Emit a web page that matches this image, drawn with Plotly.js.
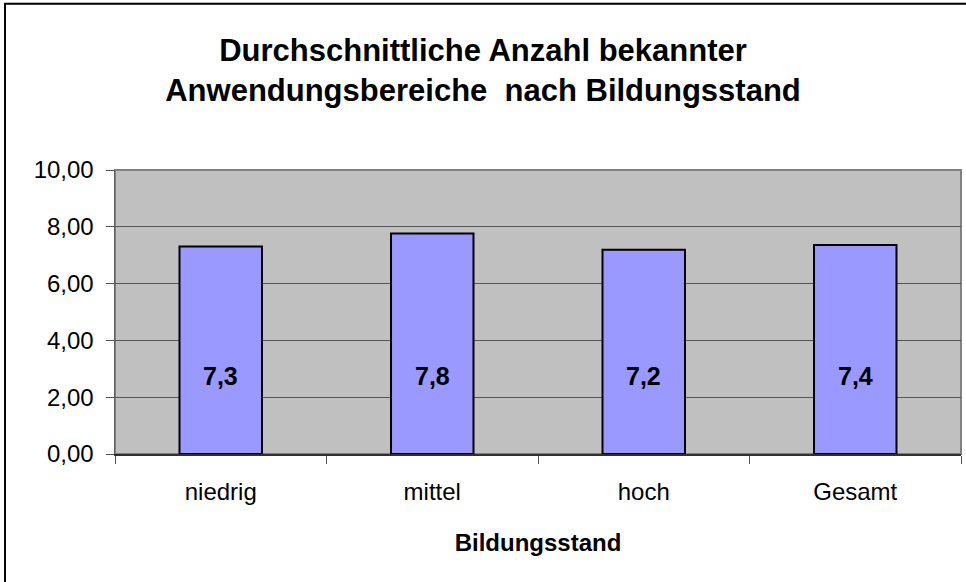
<!DOCTYPE html>
<html>
<head>
<meta charset="utf-8">
<script src="https://cdn.plot.ly/plotly-3.0.1.min.js"></script>
<style>
  html, body { margin: 0; padding: 0; background: #ffffff; }
  #chart { width: 966px; height: 582px; }
</style>
</head>
<body>
<div id="chart"></div>
<script>
const categories = ['niedrig', 'mittel', 'hoch', 'Gesamt'];
const values = [7.31, 7.76, 7.19, 7.36];
const yTicks = [0, 2, 4, 6, 8, 10];
const labelY = 2.75;

const titleText = 'Durchschnittliche Anzahl bekannter<br>Anwendungsbereiche\u00a0 nach Bildungsstand';
const xTitle = 'Bildungsstand';

const fmt = v => v.toFixed(1).replace('.', ',');
const FONT = 'Arial, "Liberation Sans", sans-serif';

const trace = {
  type: 'bar',
  x: categories,
  y: values,
  marker: { color: '#9999FF', line: { color: '#000000', width: 2 } },
  hoverinfo: 'skip'
};

const annotations = categories.map((c, i) => ({
  x: c, y: labelY, xref: 'x', yref: 'y',
  text: fmt(values[i]), showarrow: false,
  font: { family: FONT, size: 25, color: '#000000', weight: 'bold' }
}));

const layout = {
  width: 966, height: 582,
  margin: { l: 115, r: 5, t: 170, b: 128 },
  paper_bgcolor: '#ffffff',
  plot_bgcolor: '#C0C0C0',
  separators: ',.',
  showlegend: false,
  bargap: 0.61,
  title: {
    text: titleText,
    font: { family: FONT, size: 31, color: '#000000', weight: 'bold' },
    x: 0.5, xanchor: 'center',
    y: 0.895, yanchor: 'top', yref: 'container'
  },
  xaxis: {
    type: 'category',
    tickson: 'boundaries',
    ticks: 'outside', ticklen: 8, tickcolor: '#505050', tickwidth: 1,
    showline: true, linecolor: '#303030', linewidth: 1.5,
    showgrid: false,
    ticklabelstandoff: 16,
    tickfont: { family: FONT, size: 24, color: '#000000' },
    title: { text: xTitle, font: { family: FONT, size: 24, color: '#000000', weight: 'bold' }, standoff: 30 }
  },
  yaxis: {
    range: [0, 10],
    tickvals: yTicks,
    tickformat: '.2f',
    ticks: 'outside', ticklen: 8, tickcolor: '#505050', tickwidth: 1,
    showline: true, linecolor: '#606060', linewidth: 1.5,
    showgrid: true, gridcolor: '#555555', gridwidth: 1,
    zeroline: false,
    ticklabelstandoff: 7,
    tickfont: { family: FONT, size: 24, color: '#000000' }
  },
  annotations: annotations,
  shapes: [
    { type: 'rect', xref: 'paper', yref: 'paper', x0: 0, x1: 1, y0: 0, y1: 1,
      line: { color: '#808080', width: 2 }, layer: 'below' },
    { type: 'rect', xref: 'paper', yref: 'paper', x0: -0.13, x1: 1.3, y0: -0.8, y1: 1.585,
      line: { color: '#000000', width: 2 } }
  ]
};

Plotly.newPlot('chart', [trace], layout, { displayModeBar: false, staticPlot: true });
</script>
</body>
</html>
